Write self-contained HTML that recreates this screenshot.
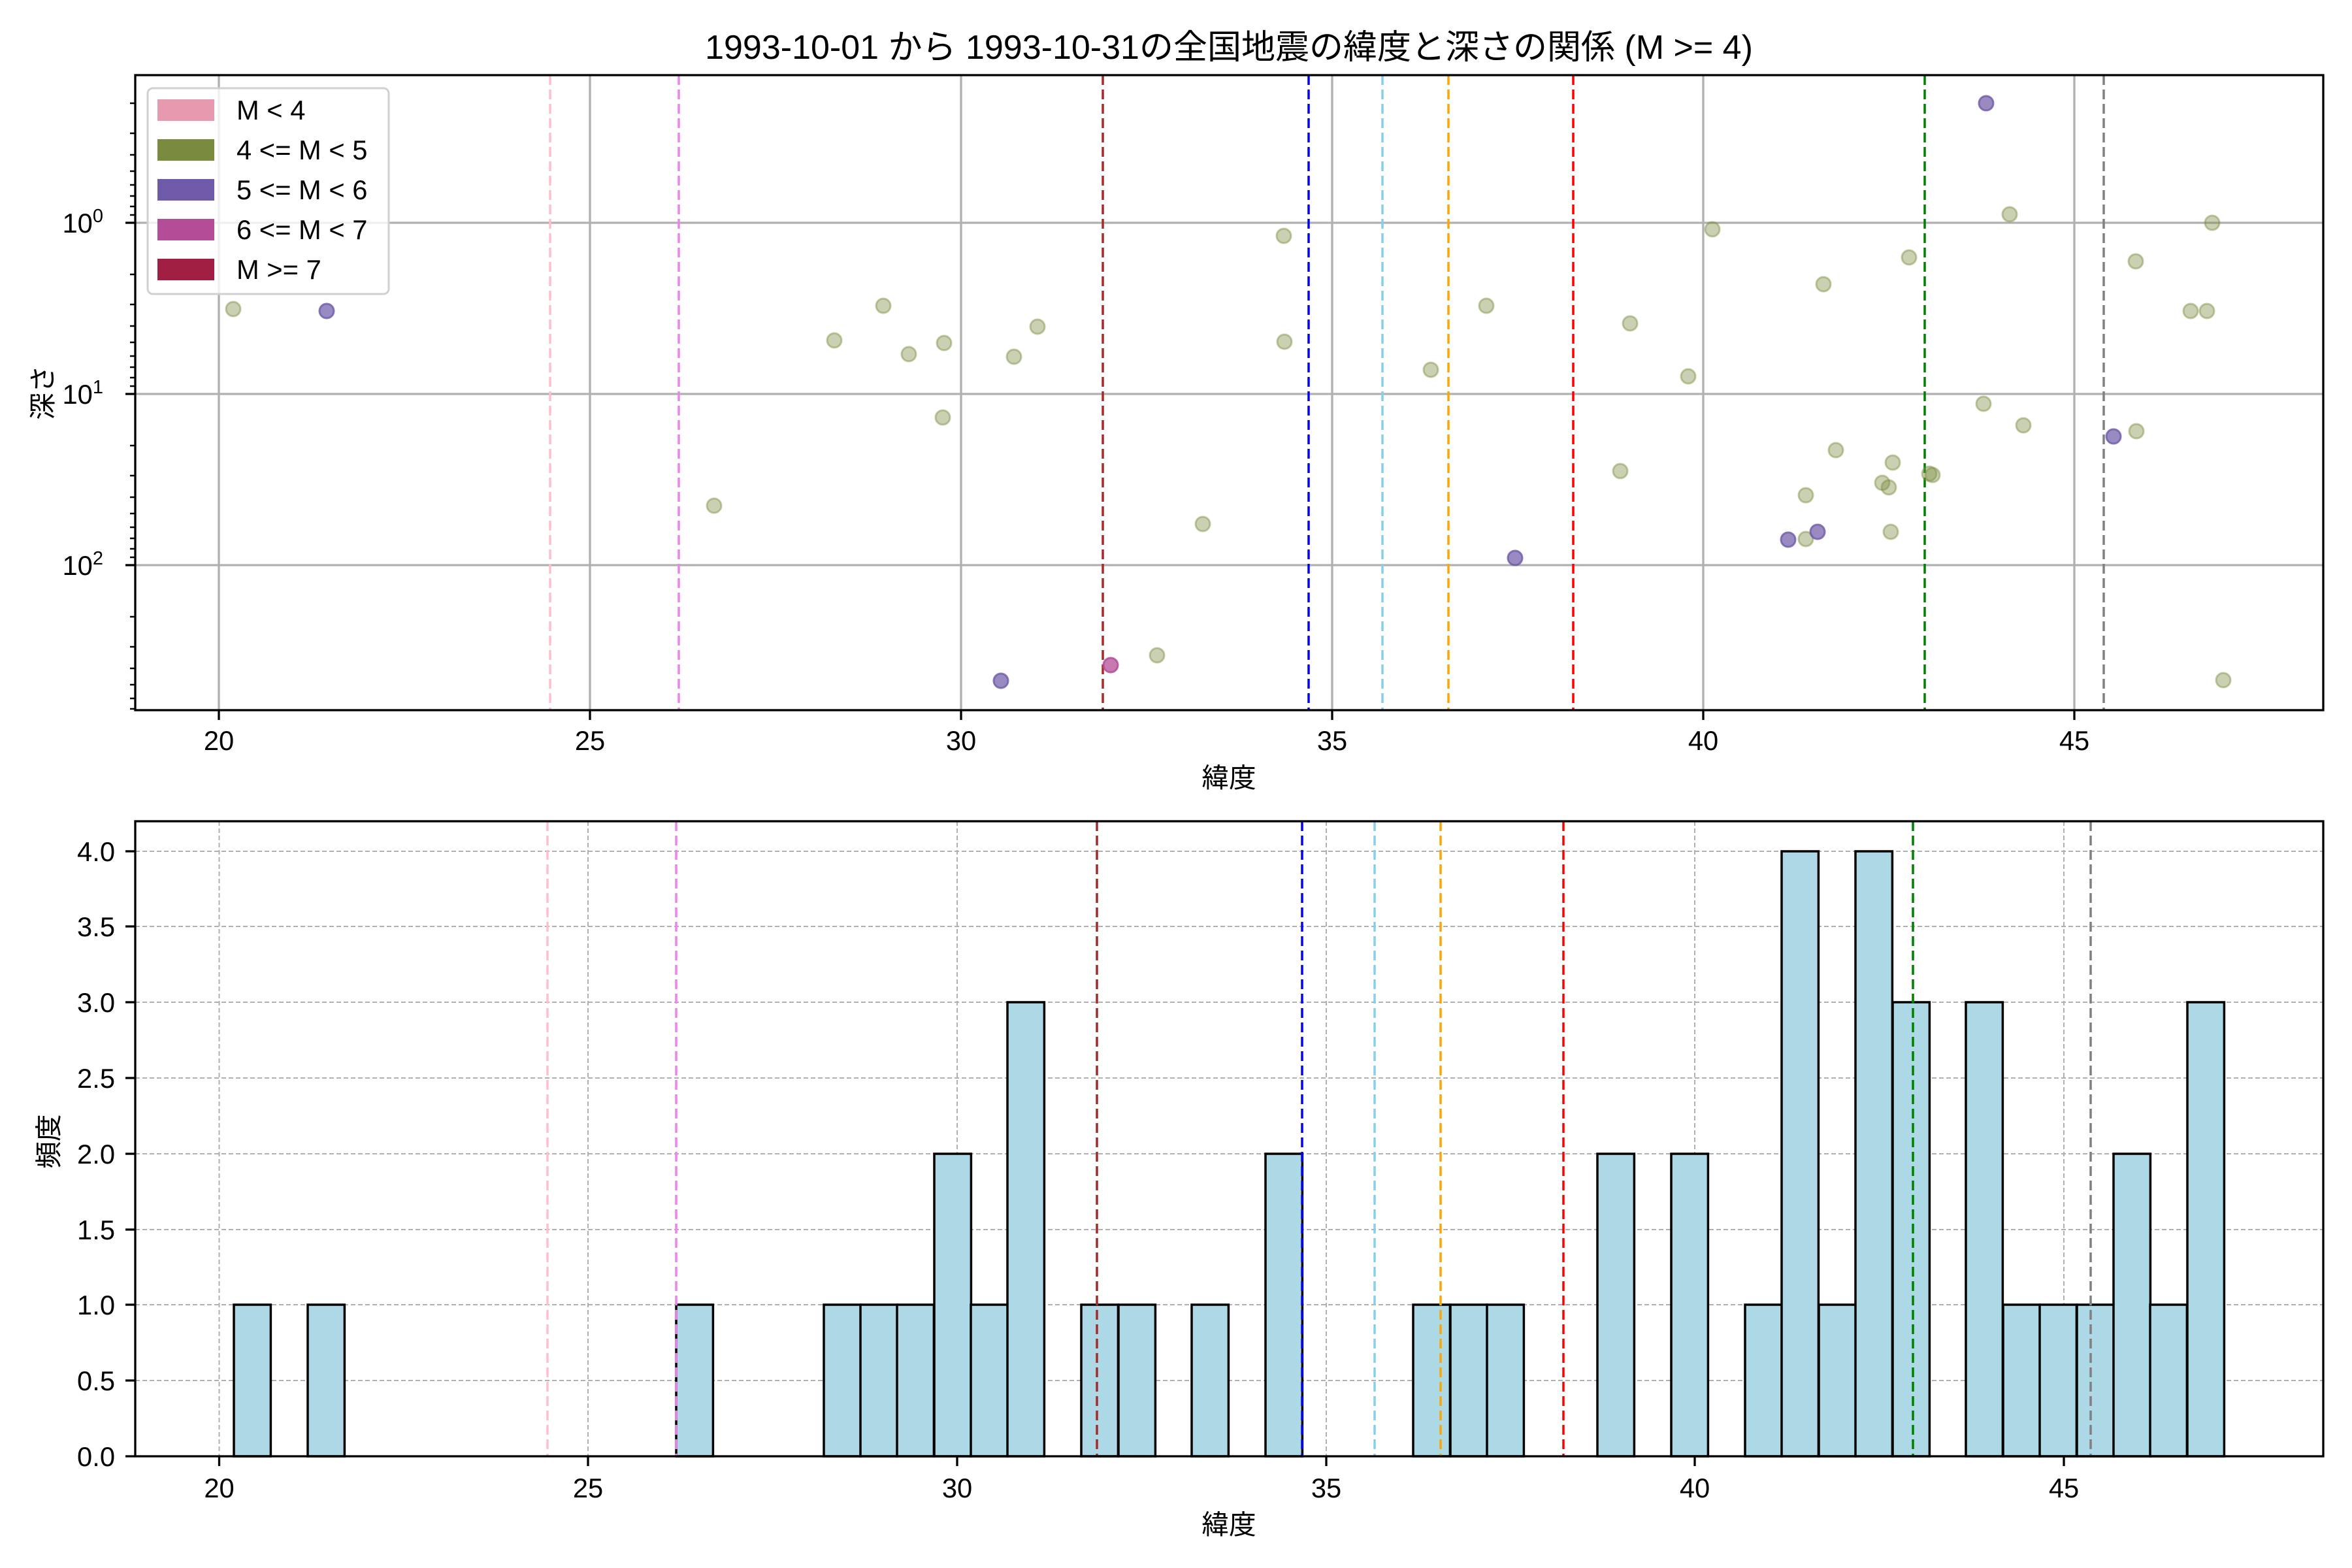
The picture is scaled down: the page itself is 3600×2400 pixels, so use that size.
<!DOCTYPE html>
<html><head><meta charset="utf-8"><style>html,body{margin:0;padding:0;background:#fff}svg{display:block}text{font-family:"Liberation Sans","Noto Sans CJK JP",sans-serif;fill:#000}</style></head><body>
<svg width="3600" height="2400" viewBox="0 0 3600 2400" xmlns="http://www.w3.org/2000/svg">
<rect width="3600" height="2400" fill="#fff"/>
<text x="1881" y="90" font-size="52" text-anchor="middle">1993-10-01 から 1993-10-31の全国地震の緯度と深さの関係 (M &gt;= 4)</text>
<!-- TOP PLOT -->
<g stroke="#b0b0b0" stroke-width="3.3">
<line x1="335" y1="115" x2="335" y2="1087"/><line x1="903" y1="115" x2="903" y2="1087"/><line x1="1471" y1="115" x2="1471" y2="1087"/><line x1="2039" y1="115" x2="2039" y2="1087"/><line x1="2607" y1="115" x2="2607" y2="1087"/><line x1="3175" y1="115" x2="3175" y2="1087"/>
<line x1="207" y1="341" x2="3556" y2="341"/><line x1="207" y1="603" x2="3556" y2="603"/><line x1="207" y1="865" x2="3556" y2="865"/>
</g>
<g stroke-width="3.5" stroke-dasharray="15,7" fill="none">
<line x1="842" y1="115" x2="842" y2="1087" stroke="pink"/>
<line x1="1039" y1="115" x2="1039" y2="1087" stroke="violet"/>
<line x1="1688" y1="115" x2="1688" y2="1087" stroke="brown"/>
<line x1="2003" y1="115" x2="2003" y2="1087" stroke="blue"/>
<line x1="2116" y1="115" x2="2116" y2="1087" stroke="skyblue"/>
<line x1="2217" y1="115" x2="2217" y2="1087" stroke="orange"/>
<line x1="2408" y1="115" x2="2408" y2="1087" stroke="red"/>
<line x1="2946" y1="115" x2="2946" y2="1087" stroke="green"/>
<line x1="3220" y1="115" x2="3220" y2="1087" stroke="gray"/>
</g>
<g fill="rgba(122,139,63,0.4)" stroke="rgba(122,139,63,0.45)" stroke-width="3">
<circle cx="357" cy="473" r="11"/><circle cx="1093" cy="774" r="11"/>
<circle cx="1277" cy="521" r="11"/><circle cx="1352" cy="468" r="11"/><circle cx="1391" cy="542" r="11"/><circle cx="1445" cy="525" r="11"/><circle cx="1443" cy="639" r="11"/><circle cx="1552" cy="546" r="11"/><circle cx="1588" cy="500" r="11"/><circle cx="1965" cy="361" r="11"/><circle cx="1966" cy="523" r="11"/><circle cx="2275" cy="468" r="11"/><circle cx="2190" cy="566" r="11"/><circle cx="1841" cy="802" r="11"/><circle cx="1771" cy="1003" r="11"/>
<circle cx="3076" cy="328" r="11"/><circle cx="2621" cy="351" r="11"/><circle cx="3386" cy="341" r="11"/><circle cx="3269" cy="400" r="11"/><circle cx="2922" cy="394" r="11"/><circle cx="2791" cy="435" r="11"/><circle cx="2495" cy="495" r="11"/><circle cx="3353" cy="476" r="11"/><circle cx="3378" cy="476" r="11"/><circle cx="2584" cy="576" r="11"/><circle cx="3036" cy="618" r="11"/><circle cx="3097" cy="651" r="11"/><circle cx="3270" cy="660" r="11"/><circle cx="2810" cy="689" r="11"/><circle cx="2480" cy="721" r="11"/><circle cx="2897" cy="708" r="11"/><circle cx="2953" cy="725" r="11"/><circle cx="2958" cy="727" r="11"/><circle cx="2881" cy="739" r="11"/><circle cx="2891" cy="746" r="11"/><circle cx="2764" cy="758" r="11"/><circle cx="2764" cy="825" r="11"/><circle cx="2894" cy="814" r="11"/><circle cx="3403" cy="1041" r="11"/>
</g>
<g fill="rgba(110,90,168,0.7)" stroke="rgba(110,90,168,0.8)" stroke-width="3">
<circle cx="500" cy="476" r="11"/><circle cx="1532" cy="1042" r="11"/><circle cx="2319" cy="854" r="11"/><circle cx="3040" cy="158" r="11"/><circle cx="3235" cy="668" r="11"/><circle cx="2737" cy="826" r="11"/><circle cx="2782" cy="814" r="11"/>
</g>
<circle cx="1700" cy="1018" r="11" fill="rgba(180,76,151,0.75)" stroke="rgba(180,76,151,0.85)" stroke-width="3"/>
<rect x="207" y="115" width="3349" height="972" fill="none" stroke="#000" stroke-width="3.3"/>
<g stroke="#000" stroke-width="3.3">
<line x1="335" y1="1087" x2="335" y2="1102"/><line x1="903" y1="1087" x2="903" y2="1102"/><line x1="1471" y1="1087" x2="1471" y2="1102"/><line x1="2039" y1="1087" x2="2039" y2="1102"/><line x1="2607" y1="1087" x2="2607" y2="1102"/><line x1="3175" y1="1087" x2="3175" y2="1102"/>
<line x1="192" y1="341" x2="207" y2="341"/><line x1="192" y1="603" x2="207" y2="603"/><line x1="192" y1="865" x2="207" y2="865"/>
</g>
<g stroke="#000" stroke-width="2.5">
<line x1="199" y1="158" x2="207" y2="158"/><line x1="199" y1="204" x2="207" y2="204"/><line x1="199" y1="237" x2="207" y2="237"/><line x1="199" y1="262" x2="207" y2="262"/><line x1="199" y1="283" x2="207" y2="283"/><line x1="199" y1="300" x2="207" y2="300"/><line x1="199" y1="316" x2="207" y2="316"/><line x1="199" y1="329" x2="207" y2="329"/>
<line x1="199" y1="420" x2="207" y2="420"/><line x1="199" y1="466" x2="207" y2="466"/><line x1="199" y1="499" x2="207" y2="499"/><line x1="199" y1="524" x2="207" y2="524"/><line x1="199" y1="545" x2="207" y2="545"/><line x1="199" y1="562" x2="207" y2="562"/><line x1="199" y1="578" x2="207" y2="578"/><line x1="199" y1="591" x2="207" y2="591"/>
<line x1="199" y1="682" x2="207" y2="682"/><line x1="199" y1="728" x2="207" y2="728"/><line x1="199" y1="761" x2="207" y2="761"/><line x1="199" y1="786" x2="207" y2="786"/><line x1="199" y1="807" x2="207" y2="807"/><line x1="199" y1="824" x2="207" y2="824"/><line x1="199" y1="840" x2="207" y2="840"/><line x1="199" y1="853" x2="207" y2="853"/>
<line x1="199" y1="944" x2="207" y2="944"/><line x1="199" y1="990" x2="207" y2="990"/><line x1="199" y1="1023" x2="207" y2="1023"/><line x1="199" y1="1048" x2="207" y2="1048"/><line x1="199" y1="1069" x2="207" y2="1069"/><line x1="199" y1="1085" x2="207" y2="1085"/>
</g>
<g font-size="41.7" text-anchor="middle">
<text x="335" y="1148">20</text><text x="903" y="1148">25</text><text x="1471" y="1148">30</text><text x="2039" y="1148">35</text><text x="2607" y="1148">40</text><text x="3175" y="1148">45</text>
<text x="1881" y="1205">緯度</text>
</g>
<g font-size="41.7" text-anchor="end">
<text x="158" y="356">10<tspan font-size="29" dy="-16">0</tspan></text>
<text x="158" y="618">10<tspan font-size="29" dy="-16">1</tspan></text>
<text x="158" y="880">10<tspan font-size="29" dy="-16">2</tspan></text>
</g>
<text font-size="41.7" text-anchor="middle" transform="translate(80,601) rotate(-90)">深さ</text>
<!-- legend -->
<rect x="226" y="135" width="369" height="315" rx="8" fill="#fff" fill-opacity="0.8" stroke="#d0d0d0" stroke-width="3"/>
<rect x="241" y="152" width="87" height="33" fill="#e799b0"/>
<rect x="241" y="213" width="87" height="33" fill="#7a8b3f"/>
<rect x="241" y="274" width="87" height="33" fill="#6e5aa8"/>
<rect x="241" y="335" width="87" height="33" fill="#b44c97"/>
<rect x="241" y="396" width="87" height="33" fill="#a11f42"/>
<g font-size="41.7">
<text x="362" y="183">M &lt; 4</text><text x="362" y="244">4 &lt;= M &lt; 5</text><text x="362" y="305">5 &lt;= M &lt; 6</text><text x="362" y="366">6 &lt;= M &lt; 7</text><text x="362" y="427">M &gt;= 7</text>
</g>
<!-- BOTTOM PLOT -->
<g stroke="#b0b0b0" stroke-width="2" stroke-dasharray="7,4">
<line x1="335.5" y1="1257" x2="335.5" y2="2229"/><line x1="900" y1="1257" x2="900" y2="2229"/><line x1="1465" y1="1257" x2="1465" y2="2229"/><line x1="2030" y1="1257" x2="2030" y2="2229"/><line x1="2594" y1="1257" x2="2594" y2="2229"/><line x1="3159" y1="1257" x2="3159" y2="2229"/>
<line x1="207" y1="2113" x2="3556" y2="2113"/><line x1="207" y1="1997" x2="3556" y2="1997"/><line x1="207" y1="1882" x2="3556" y2="1882"/><line x1="207" y1="1766" x2="3556" y2="1766"/><line x1="207" y1="1650" x2="3556" y2="1650"/><line x1="207" y1="1534" x2="3556" y2="1534"/><line x1="207" y1="1418" x2="3556" y2="1418"/><line x1="207" y1="1303" x2="3556" y2="1303"/>
</g>
<g fill="#add8e6" stroke="#000" stroke-width="3.5">
<rect x="358" y="1997" width="56.4" height="232"/>
<rect x="471" y="1997" width="56.4" height="232"/>
<rect x="1035" y="1997" width="56.4" height="232"/>
<rect x="1261" y="1997" width="56.4" height="232"/>
<rect x="1317" y="1997" width="56.4" height="232"/>
<rect x="1373" y="1997" width="56.4" height="232"/>
<rect x="1430" y="1766" width="56.4" height="463"/>
<rect x="1486" y="1997" width="56.4" height="232"/>
<rect x="1542" y="1534" width="56.4" height="695"/>
<rect x="1655" y="1997" width="56.4" height="232"/>
<rect x="1712" y="1997" width="56.4" height="232"/>
<rect x="1824" y="1997" width="56.4" height="232"/>
<rect x="1937" y="1766" width="56.4" height="463"/>
<rect x="2163" y="1997" width="56.4" height="232"/>
<rect x="2220" y="1997" width="56.4" height="232"/>
<rect x="2276" y="1997" width="56.4" height="232"/>
<rect x="2445" y="1766" width="56.4" height="463"/>
<rect x="2558" y="1766" width="56.4" height="463"/>
<rect x="2671" y="1997" width="56.4" height="232"/>
<rect x="2727" y="1303" width="56.4" height="926"/>
<rect x="2784" y="1997" width="56.4" height="232"/>
<rect x="2840" y="1303" width="56.4" height="926"/>
<rect x="2897" y="1534" width="56.4" height="695"/>
<rect x="3009" y="1534" width="56.4" height="695"/>
<rect x="3066" y="1997" width="56.4" height="232"/>
<rect x="3122" y="1997" width="56.4" height="232"/>
<rect x="3179" y="1997" width="56.4" height="232"/>
<rect x="3235" y="1766" width="56.4" height="463"/>
<rect x="3291" y="1997" width="56.4" height="232"/>
<rect x="3348" y="1534" width="56.4" height="695"/>
</g>
<g stroke-width="3.5" stroke-dasharray="15,7" fill="none">
<line x1="838" y1="1257" x2="838" y2="2229" stroke="pink"/>
<line x1="1035" y1="1257" x2="1035" y2="2229" stroke="violet"/>
<line x1="1679" y1="1257" x2="1679" y2="2229" stroke="brown"/>
<line x1="1993" y1="1257" x2="1993" y2="2229" stroke="blue"/>
<line x1="2104" y1="1257" x2="2104" y2="2229" stroke="skyblue"/>
<line x1="2205" y1="1257" x2="2205" y2="2229" stroke="orange"/>
<line x1="2393" y1="1257" x2="2393" y2="2229" stroke="red"/>
<line x1="2928" y1="1257" x2="2928" y2="2229" stroke="green"/>
<line x1="3200" y1="1257" x2="3200" y2="2229" stroke="gray"/>
</g>
<rect x="207" y="1257" width="3349" height="972" fill="none" stroke="#000" stroke-width="3.3"/>
<g stroke="#000" stroke-width="3.3">
<line x1="335.5" y1="2229" x2="335.5" y2="2244"/><line x1="900" y1="2229" x2="900" y2="2244"/><line x1="1465" y1="2229" x2="1465" y2="2244"/><line x1="2030" y1="2229" x2="2030" y2="2244"/><line x1="2594" y1="2229" x2="2594" y2="2244"/><line x1="3159" y1="2229" x2="3159" y2="2244"/>
<line x1="192" y1="2229" x2="207" y2="2229"/><line x1="192" y1="2113" x2="207" y2="2113"/><line x1="192" y1="1997" x2="207" y2="1997"/><line x1="192" y1="1882" x2="207" y2="1882"/><line x1="192" y1="1766" x2="207" y2="1766"/><line x1="192" y1="1650" x2="207" y2="1650"/><line x1="192" y1="1534" x2="207" y2="1534"/><line x1="192" y1="1418" x2="207" y2="1418"/><line x1="192" y1="1303" x2="207" y2="1303"/>
</g>
<g font-size="41.7" text-anchor="middle">
<text x="335.5" y="2292">20</text><text x="900" y="2292">25</text><text x="1465" y="2292">30</text><text x="2030" y="2292">35</text><text x="2594" y="2292">40</text><text x="3159" y="2292">45</text>
<text x="1881" y="2348">緯度</text>
</g>
<g font-size="41.7" text-anchor="end">
<text x="176" y="2244">0.0</text><text x="176" y="2128">0.5</text><text x="176" y="2012">1.0</text><text x="176" y="1897">1.5</text><text x="176" y="1781">2.0</text><text x="176" y="1665">2.5</text><text x="176" y="1549">3.0</text><text x="176" y="1433">3.5</text><text x="176" y="1318">4.0</text>
</g>
<text font-size="41.7" text-anchor="middle" transform="translate(89,1747) rotate(-90)">頻度</text>
</svg>
</body></html>
